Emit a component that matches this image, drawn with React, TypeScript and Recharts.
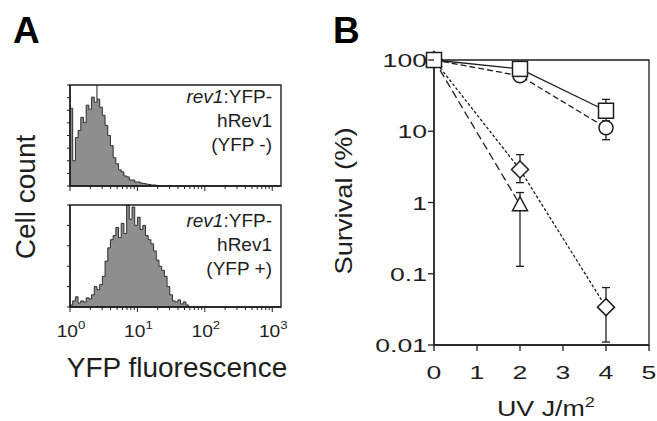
import React from 'react';
import {
    AreaChart,
    Area,
    LineChart,
    Line,
    XAxis,
    YAxis,
    ErrorBar,
    ReferenceArea,
    ReferenceLine,
} from 'recharts';

// ---- panel A: flow histograms (channel width in decades, counts normalised) ----
const binWidth = 0.04;
const yfpNeg = [
    0.77, 0.25, 0.48, 0.55, 0.68, 0.63, 0.8, 0.76, 0.88, 0.83, 0.86, 0.78, 0.7, 0.6, 0.5, 0.4, 0.28,
    0.22, 0.16, 0.14, 0.1, 0.09, 0.06, 0.06, 0.04, 0.04, 0.03, 0.025, 0.02, 0.015, 0.01, 0.01, 0.005, 0,
];
const yfpPos = [
    0.02, 0.06, 0.1, 0.04, 0.06, 0.05, 0.09, 0.08, 0.12, 0.2, 0.17, 0.22, 0.3, 0.45, 0.58, 0.66, 0.7,
    0.78, 0.68, 0.82, 0.72, 1.0, 0.86, 0.98, 0.8, 0.88, 0.76, 0.8, 0.7, 0.66, 0.62, 0.55, 0.46, 0.4,
    0.36, 0.3, 0.2, 0.12, 0.06, 0.05, 0.07, 0.03, 0.05, 0.02, 0,
];
const negGate = 0.4;
const fluorDecades = [0, 1, 2, 3];
const fluorMinor = [2, 3, 4, 5, 6, 7, 8, 9];
const negTicksY = [0, 0.125, 0.25, 0.375, 0.5, 0.625, 0.75, 0.875, 1];
const posTicksY = [0, 0.2, 0.4, 0.6, 0.8, 1];
const negLines = ['hRev1', '(YFP -)'];
const posLines = ['hRev1', '(YFP +)'];

// ---- panel B: survival after UV ----
const uvTicks = [0, 1, 2, 3, 4, 5];
const survTicks = [0.01, 0.1, 1, 10, 100];
const doses = [0, 2, 4];
const squareMean = [100, 75, 19.4];
const squareLow = [100, 75, 14];
const squareHigh = [100, 75, 28];
const circleMean = [100, 60, 11.2];
const circleLow = [100, 60, 7.6];
const circleHigh = [100, 60, 12];
const diamondMean = [100, 2.9, 0.034];
const diamondLow = [100, 1.9, 0.011];
const diamondHigh = [100, 4.7, 0.064];
const triDoses = [0, 2];
const triMean = [100, 0.93];
const triLow = [100, 0.127];
const triHigh = [100, 1.38];

const ink = '#1e1e1e';
const font = '"Liberation Sans", Arial, sans-serif';

const histRows = (counts: number[]) => [
    ...counts.map((n, i) => ({ x: i * binWidth, n })),
    { x: counts.length * binWidth, n: 0 },
];
const fluorTicks = fluorDecades.flatMap((d) =>
    d < 3 ? [d, ...fluorMinor.map((k) => d + Math.log10(k))] : [d]
);

const survRows = (xs: number[], m: number[], lo: number[], hi: number[]) =>
    xs.map((x, i) => ({ x, y: m[i], err: [m[i] - lo[i], hi[i] - m[i]] }));

const HistXTick = (props: any) => {
    const { x, y, payload, labels } = props;
    const v = payload.value;
    const major = fluorDecades.some((d) => Math.abs(d - v) < 1e-6);
    return (
        <g>
            <line x1={x} x2={x} y1={y} y2={y + (major ? 5 : 3)} stroke={ink} strokeWidth={1} />
            {labels && major && (
                <g transform={`translate(${x + 1},${y + 30}) scale(1.2,1)`}>
                    <text x={0} y={0} textAnchor="middle" fontSize={16} fontFamily={font} fill={ink}>
                        10<tspan dy={-8} fontSize={11}>{Math.round(v)}</tspan>
                    </text>
                </g>
            )}
        </g>
    );
};

const HistYTick = (props: any) => {
    const { x, y } = props;
    return <line x1={x - 3} x2={x} y1={y} y2={y} stroke={ink} strokeWidth={1} />;
};

const Histogram = ({ counts, ticksY, labels, gate }: { counts: number[]; ticksY: number[]; labels: boolean; gate?: number }) => (
    <AreaChart
        width={250}
        height={labels ? 170 : 125}
        data={histRows(counts)}
        margin={{ top: 10, right: 9, bottom: labels ? 23 : 4, left: 20 }}
    >
        <XAxis
            dataKey="x"
            type="number"
            domain={[0, 3.13]}
            allowDataOverflow
            ticks={fluorTicks}
            interval={0}
            tickSize={0}
            tickMargin={0}
            height={labels ? 35 : 10}
            axisLine={{ stroke: ink, strokeWidth: 1.4 }}
            tick={(p: any) => <HistXTick {...p} labels={labels} />}
        />
        <YAxis
            type="number"
            domain={[0, 1]}
            ticks={ticksY}
            interval={0}
            width={10}
            tickSize={0}
            tickMargin={0}
            axisLine={{ stroke: ink, strokeWidth: 1.4 }}
            tick={(p: any) => <HistYTick {...p} />}
        />
        <Area
            type="stepAfter"
            dataKey="n"
            fill="#8e8e8e"
            fillOpacity={1}
            stroke={ink}
            strokeWidth={0.9}
            dot={false}
            activeDot={false}
            isAnimationActive={false}
        />
        {gate !== undefined && (
            <ReferenceLine
                segment={[{ x: gate, y: 0.86 }, { x: gate, y: 1 }]}
                stroke={ink}
                strokeWidth={1}
            />
        )}
        <ReferenceArea x1={0} x2={3.13} y1={0} y2={1} fill="none" stroke={ink} strokeWidth={1.4} />
    </AreaChart>
);

const UvTick = (props: any) => {
    const { x, y, payload } = props;
    return (
        <g>
            <line x1={x} x2={x} y1={y} y2={y + 6} stroke={ink} strokeWidth={1.3} />
            <g transform={`translate(${x},${y + 34}) scale(1.4,1)`}>
                <text x={0} y={0} textAnchor="middle" fontSize={19} fontFamily={font} fill={ink}>
                    {payload.value}
                </text>
            </g>
        </g>
    );
};

const SurvTick = (props: any) => {
    const { x, y, payload } = props;
    return (
        <g>
            <line x1={x - 6} x2={x} y1={y} y2={y} stroke={ink} strokeWidth={1.3} />
            <g transform={`translate(${x - 7},${y + 7}) scale(1.4,1)`}>
                <text x={0} y={0} textAnchor="end" fontSize={19} fontFamily={font} fill={ink}>
                    {String(payload.value)}
                </text>
            </g>
        </g>
    );
};

const mk = { fill: '#fff', stroke: ink, strokeWidth: 1.5 };
const SquareDot = (p: any) => <rect key={`s${p.index}`} x={p.cx - 7.5} y={p.cy - 7.5} width={15} height={15} {...mk} />;
const CircleDot = (p: any) => <circle key={`c${p.index}`} cx={p.cx} cy={p.cy} r={7} {...mk} />;
const DiamondDot = (p: any) => (
    <polygon
        key={`d${p.index}`}
        points={`${p.cx},${p.cy - 8.5} ${p.cx + 8.5},${p.cy} ${p.cx},${p.cy + 8.5} ${p.cx - 8.5},${p.cy}`}
        {...mk}
    />
);
const TriangleDot = (p: any) => (
    <polygon
        key={`t${p.index}`}
        points={`${p.cx},${p.cy - 8} ${p.cx + 7.5},${p.cy + 6} ${p.cx - 7.5},${p.cy + 6}`}
        {...mk}
    />
);

const errProps = { dataKey: 'err', width: 4, stroke: ink, strokeWidth: 1.3, direction: 'y' as const };

const Survival = () => (
    <LineChart width={297} height={362} margin={{ top: 20, right: 8, bottom: 22, left: 0 }}>
        <XAxis
            dataKey="x"
            type="number"
            domain={[0, 5]}
            ticks={uvTicks}
            interval={0}
            tickSize={0}
            tickMargin={0}
            height={35}
            axisLine={{ stroke: ink, strokeWidth: 1.3 }}
            tick={(p: any) => <UvTick {...p} />}
        />
        <YAxis
            type="number"
            scale="log"
            domain={[0.01, 100]}
            ticks={survTicks}
            interval={0}
            width={74}
            tickSize={0}
            tickMargin={0}
            axisLine={{ stroke: ink, strokeWidth: 1.3 }}
            tick={(p: any) => <SurvTick {...p} />}
        />
        <ReferenceArea x1={0} x2={5} y1={0.01} y2={100} fill="none" stroke={ink} strokeWidth={1.3} />
        <Line
            data={survRows(triDoses, triMean, triLow, triHigh)}
            dataKey="y"
            stroke={ink}
            strokeWidth={1.3}
            strokeDasharray="8 4"
            dot={TriangleDot}
            activeDot={false}
            isAnimationActive={false}
        >
            <ErrorBar {...errProps} />
        </Line>
        <Line
            data={survRows(doses, diamondMean, diamondLow, diamondHigh)}
            dataKey="y"
            stroke={ink}
            strokeWidth={1.3}
            strokeDasharray="3 2"
            dot={DiamondDot}
            activeDot={false}
            isAnimationActive={false}
        >
            <ErrorBar {...errProps} />
        </Line>
        <Line
            data={survRows(doses, circleMean, circleLow, circleHigh)}
            dataKey="y"
            stroke={ink}
            strokeWidth={1.3}
            strokeDasharray="6 3"
            dot={CircleDot}
            activeDot={false}
            isAnimationActive={false}
        >
            <ErrorBar {...errProps} />
        </Line>
        <Line
            data={survRows(doses, squareMean, squareLow, squareHigh)}
            dataKey="y"
            stroke={ink}
            strokeWidth={1.3}
            dot={SquareDot}
            activeDot={false}
            isAnimationActive={false}
        >
            <ErrorBar {...errProps} />
        </Line>
    </LineChart>
);

const InsetLabel = ({ lines, base }: { lines: string[]; base: number }) => (
    <g fontFamily={font} fontSize={19} fill={ink} textAnchor="end">
        <text x={272} y={base}>
            <tspan fontStyle="italic">rev1</tspan>:YFP-
        </text>
        {lines.map((t, i) => (
            <text key={t} x={272} y={base + 24 * (i + 1)}>
                {t}
            </text>
        ))}
    </g>
);

export default function App() {
    return (
        <div
            style={{
                position: 'absolute',
                left: 0,
                top: 0,
                width: 657,
                height: 421,
                background: '#fff',
                overflow: 'hidden',
            }}
        >
            <div style={{ position: 'absolute', left: 40, top: 75 }}>
                <Histogram counts={yfpNeg} ticksY={negTicksY} labels={false} gate={negGate} />
            </div>
            <div style={{ position: 'absolute', left: 40, top: 195 }}>
                <Histogram counts={yfpPos} ticksY={posTicksY} labels={true} />
            </div>
            <div style={{ position: 'absolute', left: 360, top: 40 }}>
                <Survival />
            </div>
            <svg
                width={657}
                height={421}
                style={{ position: 'absolute', left: 0, top: 0, pointerEvents: 'none' }}
            >
                <text x={13} y={43} fontFamily={font} fontWeight="bold" fontSize={37} fill="#000">A</text>
                <text x={333} y={43} fontFamily={font} fontWeight="bold" fontSize={37} fill="#000">B</text>
                <InsetLabel lines={negLines} base={103} />
                <InsetLabel lines={posLines} base={227} />
                <text
                    transform="translate(35,197) rotate(-90)"
                    textAnchor="middle"
                    fontFamily={font}
                    fontSize={28}
                    fill={ink}
                >
                    Cell count
                </text>
                <text x={177} y={377} textAnchor="middle" fontFamily={font} fontSize={28} fill={ink}>
                    YFP fluorescence
                </text>
                <text
                    transform="translate(352,201) rotate(-90)"
                    textAnchor="middle"
                    fontFamily={font}
                    fontSize={24}
                    textLength={147}
                    lengthAdjust="spacingAndGlyphs"
                    fill={ink}
                >
                    Survival (%)
                </text>
                <g transform="translate(546,416) scale(1.22,1)">
                    <text x={0} y={0} textAnchor="middle" fontFamily={font} fontSize={22} fill={ink}>
                        UV J/m<tspan dy={-9} fontSize={15}>2</tspan>
                    </text>
                </g>
            </svg>
        </div>
    );
}
